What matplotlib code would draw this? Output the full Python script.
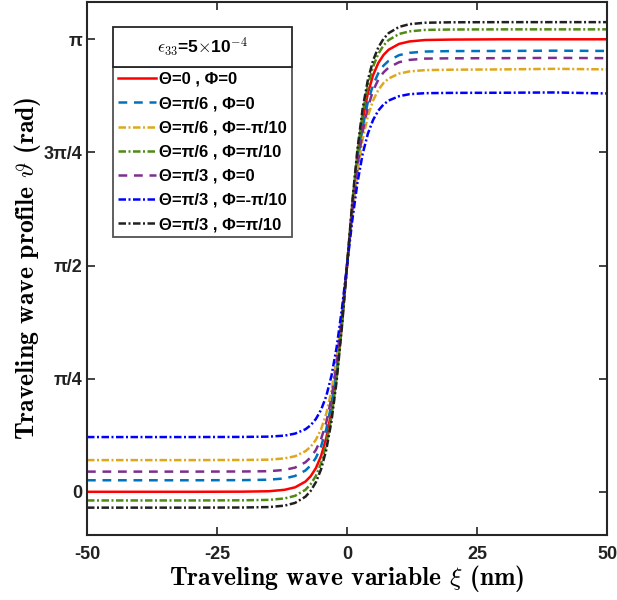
import numpy as np
import matplotlib
matplotlib.use("Agg")
import matplotlib.pyplot as plt
from matplotlib.patches import Rectangle

plt.rcParams["mathtext.fontset"] = "cm"
plt.rcParams["font.family"] = ["Liberation Sans", "DejaVu Sans"]

# =========================
# DATA
# =========================
xi = [-50, -30, -20, -15, -12, -10, -8, -7, -6, -5, -4, -3, -2, -1, 0,
      1, 2, 3, 4, 5, 6, 7, 8, 10, 12, 15, 20, 30, 40, 50]

th_0_0 = [0, 0, 0.001, 0.004, 0.014, 0.031, 0.071, 0.108, 0.164, 0.248, 0.373, 0.558, 0.820, 1.165, 1.570,
          1.975, 2.320, 2.582, 2.767, 2.892, 2.976, 3.032, 3.069, 3.109, 3.126, 3.136, 3.139, 3.141, 3.141, 3.141]
th_p6_0 = [0.08, 0.08, 0.081, 0.084, 0.093, 0.110, 0.148, 0.183, 0.235, 0.315, 0.434, 0.609, 0.858, 1.186, 1.570,
           1.954, 2.282, 2.531, 2.706, 2.825, 2.905, 2.958, 2.992, 3.031, 3.047, 3.056, 3.059, 3.06, 3.062, 3.06]
th_p6_m10 = [0.22, 0.22, 0.221, 0.223, 0.232, 0.247, 0.282, 0.313, 0.361, 0.434, 0.542, 0.701, 0.928, 1.225, 1.575,
             1.925, 2.222, 2.449, 2.608, 2.716, 2.789, 2.837, 2.869, 2.903, 2.918, 2.927, 2.930, 2.932, 2.936, 2.932]
th_p6_p10 = [-0.06, -0.06, -0.059, -0.056, -0.046, -0.028, 0.014, 0.053, 0.110, 0.198, 0.329, 0.521, 0.794, 1.153, 1.575,
             1.997, 2.356, 2.629, 2.821, 2.952, 3.040, 3.098, 3.136, 3.178, 3.196, 3.206, 3.209, 3.21, 3.21, 3.21]
th_p3_0 = [0.14, 0.14, 0.141, 0.143, 0.152, 0.168, 0.205, 0.239, 0.290, 0.366, 0.481, 0.650, 0.889, 1.205, 1.575,
           1.945, 2.261, 2.500, 2.669, 2.784, 2.861, 2.911, 2.945, 2.982, 2.998, 3.007, 3.009, 3.01, 3.012, 3.01]
th_p3_m10 = [0.38, 0.38, 0.381, 0.383, 0.390, 0.404, 0.434, 0.462, 0.505, 0.569, 0.664, 0.805, 1.004, 1.267, 1.575,
             1.883, 2.146, 2.346, 2.486, 2.581, 2.646, 2.688, 2.716, 2.746, 2.760, 2.767, 2.769, 2.77, 2.772, 2.765]
th_p3_p10 = [-0.11, -0.11, -0.109, -0.106, -0.096, -0.077, -0.034, 0.006, 0.066, 0.156, 0.291, 0.489, 0.770, 1.140, 1.575,
             2.010, 2.380, 2.662, 2.859, 2.994, 3.084, 3.144, 3.184, 3.227, 3.246, 3.256, 3.259, 3.26, 3.26, 3.26]

labels = ["Θ=0 , Φ=0", "Θ=π/6 , Φ=0", "Θ=π/6 , Φ=-π/10", "Θ=π/6 , Φ=π/10",
          "Θ=π/3 , Φ=0", "Θ=π/3 , Φ=-π/10", "Θ=π/3 , Φ=π/10"]
series = [th_0_0, th_p6_0, th_p6_m10, th_p6_p10, th_p3_0, th_p3_m10, th_p3_p10]

yticks = [0, np.pi / 4, np.pi / 2, 3 * np.pi / 4, np.pi]
ytick_labels = ["0", "π/4", "π/2", "3π/4", "π"]
xticks = [-50, -25, 0, 25, 50]

# =========================
# STYLES
# =========================
colors = ["#FF0000", "#0072BD", "#DFA81C", "#4F8A14", "#7E2F8E", "#0000FF", "#202020"]
dash_line = (3.5, 2.7)
dash_dot = (3.0, 1.0, 0.8, 1.0)
dashes = [None, dash_line, dash_dot, dash_dot, dash_line, dash_dot, dash_dot]

fig = plt.figure(figsize=(6.17, 6.0), dpi=100)
ax = fig.add_axes([0.141, 0.1083, 0.843, 0.8884])

for y, c, d, lab in zip(series, colors, dashes, labels):
    if d is None:
        ax.plot(xi, y, color=c, linestyle="-", linewidth=1.8, label=lab)
    else:
        ax.plot(xi, y, color=c, linestyle=(0, d), linewidth=1.8, label=lab)

ax.set_xlim(-50, 50)
ax.set_ylim(-0.3, 3.4)
ax.set_xticks(xticks)
ax.set_xticklabels([str(v) for v in xticks], fontweight="bold", fontsize=13)
ax.set_yticks(yticks)
ax.set_yticklabels(ytick_labels, fontweight="bold", fontsize=13)
ax.tick_params(direction="in", length=6, width=1.2, top=True, right=True, colors="#222222")
ax.tick_params(axis="x", pad=8)
ax.tick_params(axis="y", pad=3)
for sp in ax.spines.values():
    sp.set_linewidth(1.5)
    sp.set_color("#262626")

ax.set_xlabel(r"Traveling wave variable $\xi$ (nm)", family="cmb10", fontsize=18.5, labelpad=0)
ax.set_ylabel(r"Traveling wave profile $\vartheta$ (rad)", family="cmb10", fontsize=18.5, labelpad=1)

# legend (entries) + title box on top of it
leg = ax.legend(loc="upper left", bbox_to_anchor=(113 / 617, 1 - 67 / 600), bbox_transform=fig.transFigure,
                borderaxespad=0, frameon=True, fancybox=False, edgecolor="#262626",
                handlelength=2.3, handletextpad=0.15, labelspacing=0.55, borderpad=0.3,
                prop={"weight": "bold", "size": 12})
leg.get_frame().set_linewidth(1.3)

fig.canvas.draw()
lb = leg.get_window_extent()
inv = fig.transFigure.inverted()
(x0, y0), (x1, y1) = inv.transform([(lb.x0, lb.y1), (lb.x1, lb.y1 + 40)])
fig.add_artist(Rectangle((x0, y0), x1 - x0, y1 - y0, transform=fig.transFigure,
                         facecolor="white", edgecolor="#262626", linewidth=1.3, zorder=10))
fig.text((x0 + x1) / 2, (y0 + y1) / 2, r"$\epsilon_{33}$=5$\times$10$^{-4}$",
         ha="center", va="center", fontsize=12.5, fontweight="bold", zorder=11)

fig.savefig("out.png", dpi=100)
